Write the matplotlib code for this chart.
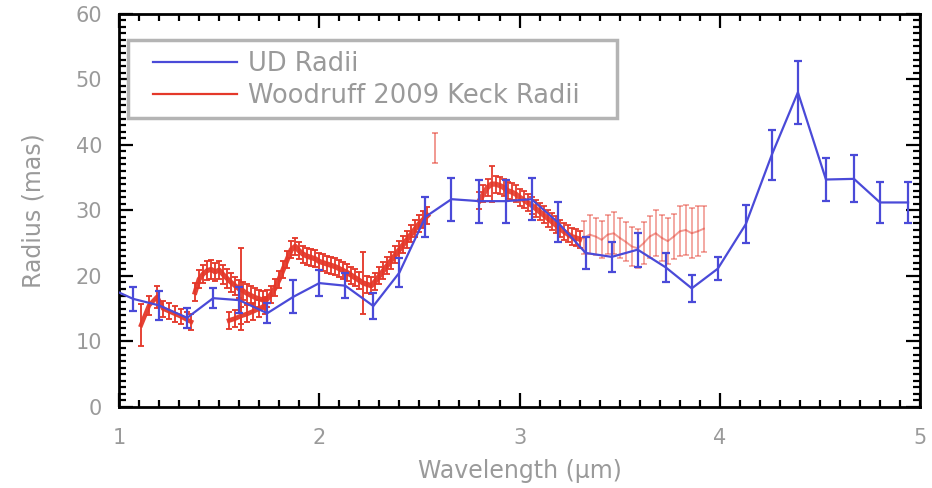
import matplotlib
matplotlib.use("Agg")
import matplotlib.pyplot as plt
from matplotlib.patches import Rectangle
from matplotlib.ticker import MultipleLocator

# ---- UD radii (blue) ----
ud_wl = [0.94, 1.07, 1.20, 1.34, 1.47, 1.60, 1.74, 1.87, 2.00, 2.13, 2.27, 2.40,
         2.53, 2.66, 2.80, 2.93, 3.06, 3.19, 3.33, 3.46, 3.59, 3.73, 3.86, 3.99,
         4.13, 4.26, 4.39, 4.53, 4.67, 4.80, 4.94]
ud_rad = [18.3, 16.5, 15.5, 13.6, 16.6, 16.3, 14.3, 16.8, 18.9, 18.5, 15.4, 20.5,
          29.0, 31.7, 31.4, 31.4, 31.7, 28.2, 23.5, 22.9, 24.0, 21.3, 18.1, 21.1,
          27.9, 38.5, 48.0, 34.7, 34.8, 31.2, 31.2]
ud_err = [2.0, 1.8, 2.2, 1.5, 1.5, 2.0, 1.5, 2.5, 2.0, 1.9, 2.0, 2.2,
          3.0, 3.3, 3.3, 3.3, 3.2, 3.0, 2.4, 2.3, 2.6, 2.2, 2.1, 1.8,
          2.9, 3.8, 4.8, 3.3, 3.6, 3.1, 3.1]

# ---- Woodruff 2009 Keck radii (red), by band ----
j_wl = [1.11, 1.15, 1.19, 1.22, 1.25, 1.28, 1.31, 1.34, 1.36]
j_rad = [12.5, 15.5, 16.8, 15.0, 14.6, 14.2, 13.8, 13.3, 13.0]
j_err = [3.2, 1.5, 1.7, 1.2, 1.2, 1.2, 1.2, 1.2, 1.2]

h_wl = [1.38, 1.40, 1.42, 1.44, 1.46, 1.48, 1.50, 1.52, 1.54, 1.56, 1.58, 1.60,
        1.61, 1.62, 1.64, 1.66, 1.68, 1.70, 1.72]
h_rad = [17.5, 19.5, 20.3, 20.8, 21.0, 20.6, 20.9, 20.2, 19.6, 19.0, 18.5, 18.0,
         18.0, 17.7, 17.3, 17.0, 16.7, 16.5, 16.3]
h_err = [1.4, 1.4, 1.4, 1.4, 1.4, 1.4, 1.4, 1.4, 1.4, 1.4, 1.4, 1.4,
         6.2, 1.4, 1.4, 1.4, 1.4, 1.4, 1.4]

h2_wl = [1.55, 1.58, 1.61, 1.64, 1.67, 1.70, 1.73]
h2_rad = [13.2, 13.5, 13.9, 14.2, 14.6, 15.0, 15.5]
h2_err = [1.3, 1.3, 1.3, 1.3, 1.3, 1.3, 1.3]

k_wl = [1.74, 1.76, 1.78, 1.80, 1.82, 1.84, 1.86, 1.88, 1.90, 1.92, 1.94, 1.96,
        1.98, 2.00, 2.02, 2.04, 2.06, 2.08, 2.10, 2.12, 2.14, 2.16, 2.18, 2.20,
        2.22, 2.24, 2.26, 2.28, 2.30, 2.32, 2.34, 2.36, 2.38, 2.40, 2.42, 2.44,
        2.46, 2.48, 2.50, 2.52, 2.54]
k_rad = [16.5, 17.2, 18.2, 19.5, 21.0, 22.5, 24.0, 24.5, 23.8, 23.3, 23.0, 22.8,
         22.6, 22.2, 22.0, 21.8, 21.6, 21.4, 21.1, 20.8, 20.5, 20.1, 19.7, 19.3,
         18.9, 18.7, 18.5, 19.2, 20.0, 20.8, 21.6, 22.4, 23.2, 24.0, 24.8, 25.6,
         26.4, 27.2, 28.0, 28.6, 29.2]
k_err = [1.3, 1.3, 1.3, 1.3, 1.3, 1.3, 1.3, 1.3, 1.3, 1.3, 1.3, 1.3,
         1.3, 1.3, 1.3, 1.3, 1.3, 1.3, 1.3, 1.3, 1.3, 1.3, 1.3, 1.3,
         4.7, 1.3, 1.3, 1.3, 1.3, 1.3, 1.3, 1.3, 1.3, 1.3, 1.3, 1.3,
         1.3, 1.3, 1.3, 1.3, 1.3]

out_wl = [2.58]
out_rad = [39.5]
out_err = [2.3]

l_wl = [2.80, 2.82, 2.84, 2.86, 2.88, 2.90, 2.92, 2.94, 2.96, 2.98, 3.00, 3.02,
        3.04, 3.06, 3.08, 3.10, 3.12, 3.14, 3.16, 3.18, 3.20, 3.22, 3.24, 3.26,
        3.28, 3.30]
l_rad = [31.5, 32.5, 33.5, 34.0, 34.0, 33.8, 33.5, 33.0, 32.8, 32.5, 32.0, 31.6,
         31.2, 30.8, 30.3, 29.8, 29.3, 28.8, 28.3, 27.8, 27.3, 26.8, 26.4, 26.0,
         25.8, 25.6]
l_err = [1.3, 1.3, 1.3, 2.8, 1.3, 1.3, 1.3, 1.3, 1.3, 1.3, 1.3, 1.3,
         1.3, 1.3, 1.3, 1.3, 1.3, 1.3, 1.3, 1.3, 1.3, 1.3, 1.3, 1.3,
         1.3, 1.3]

l2_wl = [3.32, 3.35, 3.38, 3.41, 3.44, 3.47, 3.50, 3.53, 3.56, 3.59, 3.62, 3.65,
         3.68, 3.71, 3.74, 3.77, 3.80, 3.83, 3.86, 3.89, 3.92]
l2_rad = [25.8, 26.3, 26.0, 25.5, 26.3, 26.5, 25.8, 25.2, 24.5, 24.2, 25.0, 26.0,
          26.5, 25.8, 25.3, 26.0, 26.8, 27.0, 26.5, 26.8, 27.2]
l2_err = [2.5, 3.0, 2.8, 2.8, 3.0, 3.2, 3.0, 3.0, 3.0, 3.0, 3.2, 3.2,
          3.5, 3.5, 3.5, 3.5, 3.8, 3.8, 3.8, 3.8, 3.5]

x_ticks = [1, 2, 3, 4, 5]
y_ticks = [0, 10, 20, 30, 40, 50, 60]
legend_labels = ["UD Radii", "Woodruff 2009 Keck Radii"]

BLUE = "#4a4ad8"
RED = "#e4382a"
TXT = "#9a9a9a"

fig = plt.figure(figsize=(9.32, 4.88), dpi=100)
ax = fig.add_axes([0.1277, 0.166, 0.8595, 0.806])

red_segments = [
    (j_wl, j_rad, j_err, 3.2, 1.4, 0.95),
    (h_wl, h_rad, h_err, 3.6, 1.4, 0.95),
    (h2_wl, h2_rad, h2_err, 3.4, 1.4, 0.95),
    (k_wl, k_rad, k_err, 3.8, 1.4, 0.95),
    (out_wl, out_rad, out_err, 1.2, 1.2, 0.6),
    (l_wl, l_rad, l_err, 3.8, 1.4, 0.9),
    (l2_wl, l2_rad, l2_err, 1.4, 1.2, 0.5),
]
for wl, rad, err, lw, elw, alpha in red_segments:
    ax.errorbar(wl, rad, yerr=err, color=RED, lw=lw, elinewidth=elw,
                capsize=2.2, capthick=elw, alpha=alpha, zorder=2)

ax.errorbar(ud_wl, ud_rad, yerr=ud_err, color=BLUE, lw=1.6, elinewidth=1.6,
            capsize=3, capthick=1.6, zorder=3)

ax.set_xlim(1, 5)
ax.set_ylim(0, 60)
ax.set_xticks(x_ticks)
ax.set_yticks(y_ticks)
ax.xaxis.set_minor_locator(MultipleLocator(0.1))
ax.yaxis.set_minor_locator(MultipleLocator(1))
ax.tick_params(which="both", direction="in", top=True, right=True,
               color="black", width=1.6, labelcolor=TXT, labelsize=15)
ax.tick_params(which="major", length=10)
ax.tick_params(which="minor", length=5)
ax.tick_params(axis="x", which="major", pad=15)
ax.tick_params(axis="y", which="major", pad=12)
for sp in ax.spines.values():
    sp.set_linewidth(2.0)

ax.set_xlabel("Wavelength (\u03bcm)", color=TXT, fontsize=17, labelpad=8)
ax.set_ylabel("Radius (mas)", color=TXT, fontsize=17, labelpad=22)

# legend: plain box plus frameless legend inside it
frame = Rectangle((0.011, 0.735), 0.611, 0.198, transform=ax.transAxes,
                  facecolor="white", edgecolor="#b4b4b4", lw=2.5, zorder=4)
ax.add_patch(frame)
h_ud, = ax.plot([], [], color=BLUE, lw=1.6)
h_wd, = ax.plot([], [], color=RED, lw=1.6)
leg = ax.legend([h_ud, h_wd], legend_labels,
                loc="upper left", bbox_to_anchor=(0.042, 0.905),
                fontsize=18.5, handlelength=3.3, handletextpad=0.4,
                labelspacing=0.22, borderpad=0.0, borderaxespad=0.0,
                frameon=False, labelcolor=TXT)
leg.set_zorder(5)

fig.savefig("out.png", dpi=100)
